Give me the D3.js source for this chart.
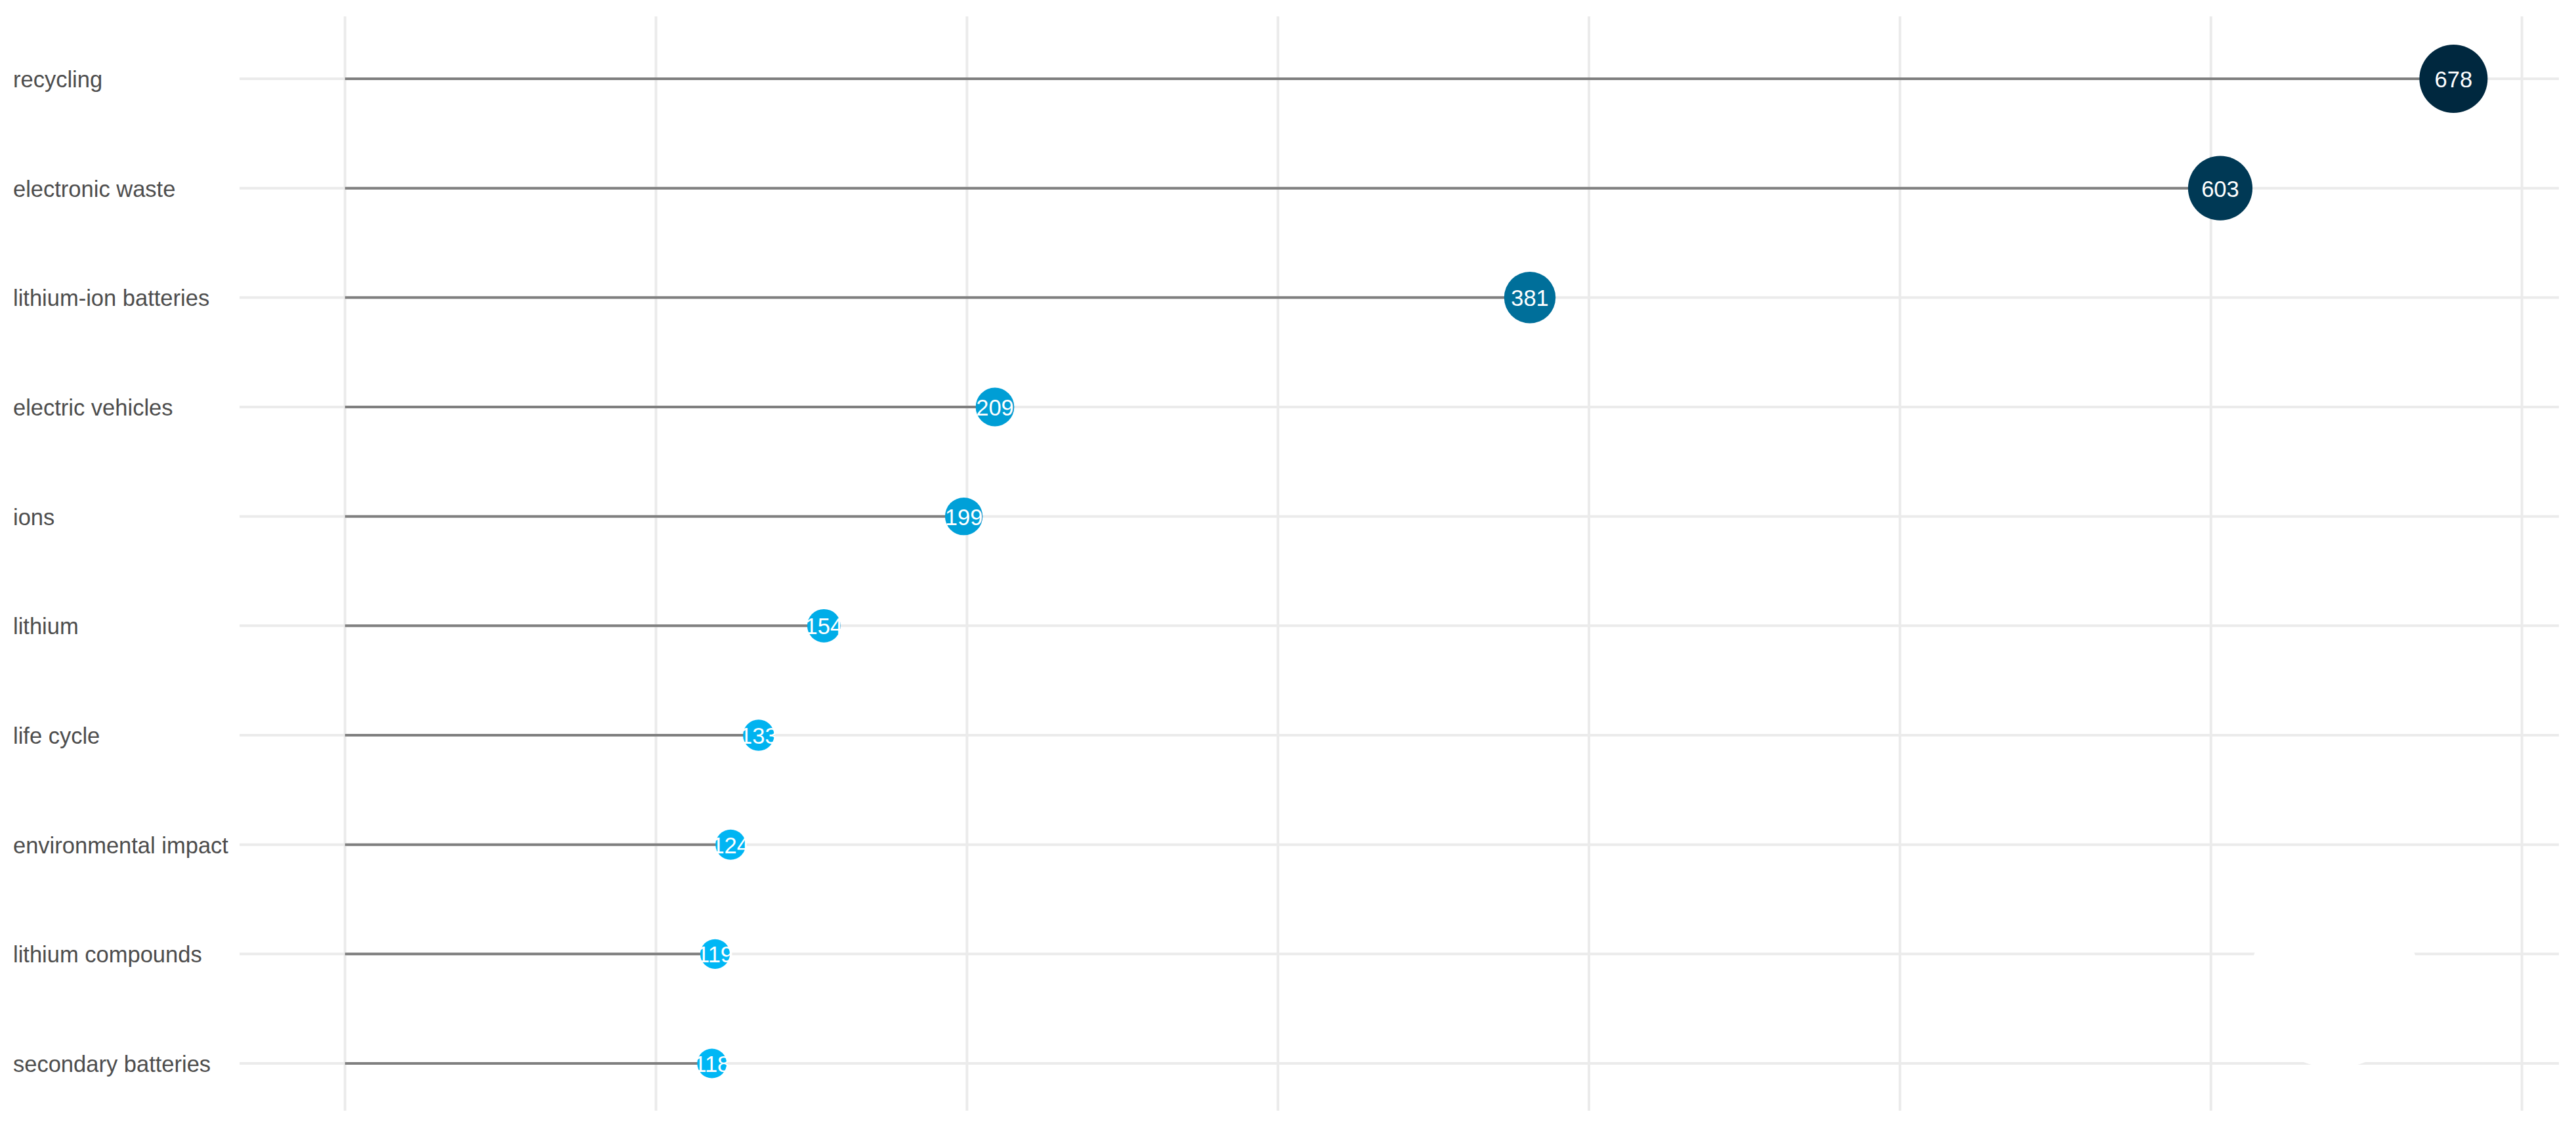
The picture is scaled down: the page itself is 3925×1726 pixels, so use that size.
<!DOCTYPE html>
<html>
<head>
<meta charset="utf-8">
<script src="https://cdn.jsdelivr.net/npm/d3@7"></script>
<style>
  html, body { margin: 0; padding: 0; background: #ffffff; }
  svg { display: block; }
</style>
</head>
<body>
<svg id="chart" width="3925" height="1726"></svg>
<script>
const categories = ["recycling", "electronic waste", "lithium-ion batteries", "electric vehicles", "ions", "lithium", "life cycle", "environmental impact", "lithium compounds", "secondary batteries"];
const values = [678, 603, 381, 209, 199, 154, 133, 124, 119, 118];
const xGridTicks = [0, 100, 200, 300, 400, 500, 600, 700];

const W = 3925, H = 1726;
const panel = { left: 365, right: 3899, top: 25, bottom: 1692 };
const svg = d3.select("#chart");
svg.append("rect").attr("width", W).attr("height", H).attr("fill", "#ffffff");

const maxV = d3.max(values);
const pad = maxV * 0.05;
const x = d3.scaleLinear().domain([-pad, maxV + pad]).range([panel.left, panel.right]);
const y = d3.scalePoint().domain(categories).range([120, 1620]);
const rArea = d3.scaleLinear().domain(d3.extent(values)).range([22.5 * 22.5, 52 * 52]);
const color = d3.scaleLinear().domain(d3.extent(values)).range(["#00B7F5", "#00283F"]).interpolate(d3.interpolateLab);

// grid
const grid = svg.append("g");
grid.selectAll("line.v").data(xGridTicks).join("line")
  .attr("x1", d => x(d)).attr("x2", d => x(d))
  .attr("y1", panel.top).attr("y2", panel.bottom)
  .attr("stroke", "#EBEBEB").attr("stroke-width", 4);
grid.selectAll("line.h").data(categories).join("line")
  .attr("x1", panel.left).attr("x2", panel.right)
  .attr("y1", d => y(d)).attr("y2", d => y(d))
  .attr("stroke", "#EBEBEB").attr("stroke-width", 4);

// faint white blob covering part of the grid (present in reference)
svg.append("circle").attr("cx", 3557).attr("cy", 1497).attr("r", 130).attr("fill", "#ffffff");

// category labels
svg.append("g").selectAll("text").data(categories).join("text")
  .attr("x", 20).attr("y", d => y(d) + 1)
  .attr("dominant-baseline", "central")
  .attr("font-family", "Liberation Sans, Arial, sans-serif")
  .attr("font-size", 34.5)
  .attr("fill", "#4D4D4D")
  .text(d => d);

const data = categories.map((c, i) => ({ c, v: values[i] }));

// stems
svg.append("g").selectAll("line").data(data).join("line")
  .attr("x1", x(0)).attr("x2", d => x(d.v))
  .attr("y1", d => y(d.c)).attr("y2", d => y(d.c))
  .attr("stroke", "#7F7F7F").attr("stroke-width", 4);

// points
svg.append("g").selectAll("circle").data(data).join("circle")
  .attr("cx", d => x(d.v)).attr("cy", d => y(d.c))
  .attr("r", d => Math.sqrt(rArea(d.v)))
  .attr("fill", d => color(d.v));

// value labels
svg.append("g").selectAll("text").data(data).join("text")
  .attr("x", d => x(d.v)).attr("y", d => y(d.c) + 1)
  .attr("text-anchor", "middle")
  .attr("dominant-baseline", "central")
  .attr("font-family", "Liberation Sans, Arial, sans-serif")
  .attr("font-size", 34.5)
  .attr("fill", "#ffffff")
  .text(d => d.v);
</script>
</body>
</html>
